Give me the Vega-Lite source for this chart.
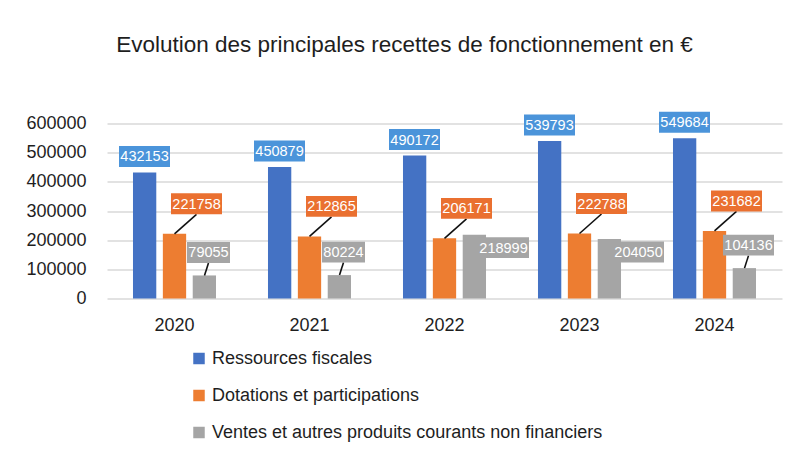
{
  "$schema": "https://vega.github.io/schema/vega-lite/v6.json",
  "autosize": {"type": "none"},
  "width": 675,
  "height": 175,
  "padding": {"left": 107, "top": 123.5, "right": 13, "bottom": 156.5},
  "background": "white",
  "title": {
    "text": "Evolution des principales recettes de fonctionnement en €",
    "font": "Liberation Sans",
    "fontSize": 22.5,
    "fontWeight": "normal",
    "color": "#1e1e1e",
    "anchor": "middle",
    "baseline": "alphabetic",
    "dx": -40,
    "offset": 37.5
  },
  "config": {
    "view": {"stroke": null},
    "font": "Liberation Sans"
  },
  "data": {
    "values": [
      {"year": "2020", "series": "Ressources fiscales", "value": 432153},
      {"year": "2020", "series": "Dotations et participations", "value": 221758},
      {"year": "2020", "series": "Ventes et autres produits courants non financiers", "value": 79055},
      {"year": "2021", "series": "Ressources fiscales", "value": 450879},
      {"year": "2021", "series": "Dotations et participations", "value": 212865},
      {"year": "2021", "series": "Ventes et autres produits courants non financiers", "value": 80224},
      {"year": "2022", "series": "Ressources fiscales", "value": 490172},
      {"year": "2022", "series": "Dotations et participations", "value": 206171},
      {"year": "2022", "series": "Ventes et autres produits courants non financiers", "value": 218999},
      {"year": "2023", "series": "Ressources fiscales", "value": 539793},
      {"year": "2023", "series": "Dotations et participations", "value": 222788},
      {"year": "2023", "series": "Ventes et autres produits courants non financiers", "value": 204050},
      {"year": "2024", "series": "Ressources fiscales", "value": 549684},
      {"year": "2024", "series": "Dotations et participations", "value": 231682},
      {"year": "2024", "series": "Ventes et autres produits courants non financiers", "value": 104136}
    ]
  },
  "encoding": {
    "x": {
      "field": "year",
      "type": "ordinal",
      "scale": {"paddingInner": 0.385, "paddingOuter": 0.1925},
      "axis": {
        "title": null,
        "labelAngle": 0,
        "ticks": false,
        "domain": false,
        "labelPadding": 18,
        "labelFontSize": 18,
        "labelFont": "Liberation Sans",
        "labelColor": "#1e1e1e"
      }
    },
    "y": {
      "field": "value",
      "type": "quantitative",
      "scale": {"domain": [0, 600000], "nice": false},
      "axis": {
        "title": null,
        "values": [0, 100000, 200000, 300000, 400000, 500000, 600000],
        "format": "d",
        "ticks": false,
        "domain": false,
        "labelPadding": 21,
        "labelFontSize": 18,
        "labelFont": "Liberation Sans",
        "labelColor": "#1e1e1e",
        "gridColor": "#D9D9D9",
        "gridWidth": 1.3
      }
    }
  },
  "layer": [
    {
      "mark": {"type": "bar"},
      "encoding": {
        "xOffset": {
          "field": "series",
          "type": "nominal",
          "sort": ["Ressources fiscales", "Dotations et participations", "Ventes et autres produits courants non financiers"],
          "scale": {"paddingInner": 0.22, "paddingOuter": 0}
        },
        "color": {
          "field": "series",
          "type": "nominal",
          "scale": {
            "domain": ["Ressources fiscales", "Dotations et participations", "Ventes et autres produits courants non financiers"],
            "range": ["#4472C4", "#ED7D31", "#A5A5A5"]
          },
          "legend": {
            "title": null,
            "orient": "none",
            "direction": "vertical",
            "legendX": 83,
            "legendY": 226,
            "symbolType": "square",
            "symbolSize": 132,
            "symbolStrokeWidth": 0,
            "labelFontSize": 18,
            "labelFont": "Liberation Sans",
            "labelColor": "#1e1e1e",
            "labelOffset": 4,
            "rowPadding": 19,
            "labelLimit": 600
          }
        }
      }
    },
    {
      "transform": [{"filter": "datum.series == 'Dotations et participations'"}],
      "mark": {"type": "rule", "color": "#111111", "strokeWidth": 1.6, "xOffset": 0, "x2Offset": 22, "y2Offset": -19.5},
      "encoding": {
        "x2": {"field": "year"},
        "y2": {"field": "value"}
      }
    },
    {
      "transform": [{"filter": "datum.series == 'Ventes et autres produits courants non financiers' && datum.value < 150000"}],
      "mark": {"type": "rule", "color": "#111111", "strokeWidth": 1.6, "xOffset": 30, "x2Offset": 34, "y2Offset": -12.5},
      "encoding": {
        "x2": {"field": "year"},
        "y2": {"field": "value"}
      }
    },
    {
      "transform": [{"filter": "datum.series == 'Ressources fiscales'"}],
      "mark": {"type": "point", "shape": "M-1,-0.41H1V0.41H-1Z", "size": 2601, "filled": true, "opacity": 1, "color": "#4B94DA", "xOffset": -30, "yOffset": -16}
    },
    {
      "transform": [{"filter": "datum.series == 'Ressources fiscales'"}],
      "mark": {"type": "text", "color": "white", "fontSize": 14.5, "font": "Liberation Sans", "align": "center", "baseline": "middle", "dx": -30, "dy": -15},
      "encoding": {"text": {"field": "value", "type": "quantitative", "format": "d"}}
    },
    {
      "transform": [{"filter": "datum.series == 'Dotations et participations'"}],
      "mark": {"type": "point", "shape": "M-1,-0.41H1V0.41H-1Z", "size": 2601, "filled": true, "opacity": 1, "color": "#EA7030", "xOffset": 22, "yOffset": -30}
    },
    {
      "transform": [{"filter": "datum.series == 'Dotations et participations'"}],
      "mark": {"type": "text", "color": "white", "fontSize": 14.5, "font": "Liberation Sans", "align": "center", "baseline": "middle", "dx": 22, "dy": -29},
      "encoding": {"text": {"field": "value", "type": "quantitative", "format": "d"}}
    },
    {
      "transform": [{"filter": "datum.series == 'Ventes et autres produits courants non financiers' && datum.value < 150000"}],
      "mark": {"type": "point", "size": 2601, "filled": true, "opacity": 1, "color": "#A5A5A5", "xOffset": 34, "yOffset": -23},
      "encoding": {
        "shape": {"condition": {"test": "datum.value < 100000", "value": "M-0.843,-0.41H0.843V0.41H-0.843Z"}, "value": "M-1,-0.41H1V0.41H-1Z"}
      }
    },
    {
      "transform": [{"filter": "datum.series == 'Ventes et autres produits courants non financiers' && datum.value < 150000"}],
      "mark": {"type": "text", "color": "white", "fontSize": 14.5, "font": "Liberation Sans", "align": "center", "baseline": "middle", "dx": 34, "dy": -22},
      "encoding": {"text": {"field": "value", "type": "quantitative", "format": "d"}}
    },
    {
      "transform": [{"filter": "datum.series == 'Ventes et autres produits courants non financiers' && datum.value >= 150000"}],
      "mark": {"type": "point", "shape": "M-1,-0.41H1V0.41H-1Z", "size": 2601, "filled": true, "opacity": 1, "color": "#A5A5A5", "xOffset": 59, "yOffset": 13}
    },
    {
      "transform": [{"filter": "datum.series == 'Ventes et autres produits courants non financiers' && datum.value >= 150000"}],
      "mark": {"type": "text", "color": "white", "fontSize": 14.5, "font": "Liberation Sans", "align": "center", "baseline": "middle", "dx": 59, "dy": 14},
      "encoding": {"text": {"field": "value", "type": "quantitative", "format": "d"}}
    }
  ]
}
